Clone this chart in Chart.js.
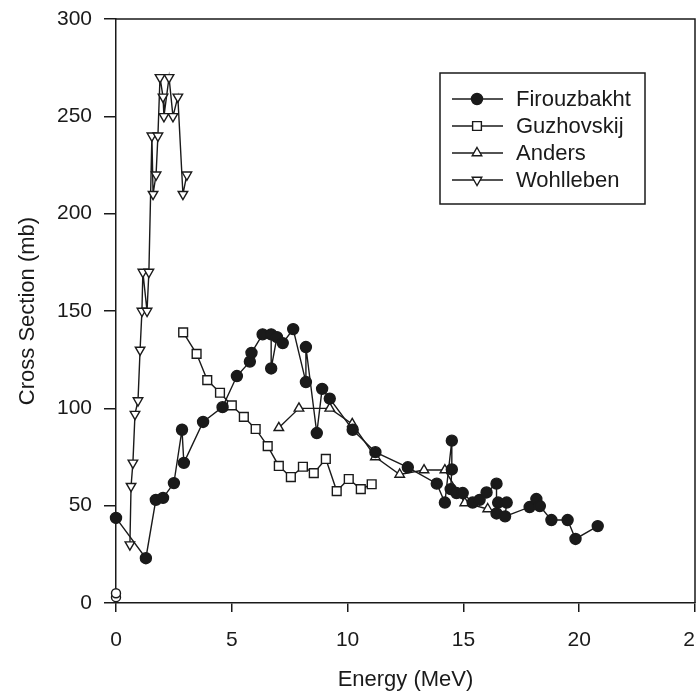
<!DOCTYPE html>
<html>
<head>
<meta charset="utf-8">
<script src="https://cdn.jsdelivr.net/npm/chart.js@4/dist/chart.umd.min.js"></script>
<style>
  html, body { margin: 0; padding: 0; background: #fff; }
  #wrap { width: 696px; height: 691px; }
</style>
</head>
<body>
<div id="wrap"><canvas id="myChart" width="696" height="691"></canvas></div>
<script>
// values
const firouzX = [0, 1.29, 1.72, 2.03, 2.5, 2.85, 2.93, 3.76, 4.6, 5.22, 5.78, 5.85, 6.33, 6.7, 6.7, 6.95, 7.2, 7.65, 8.2, 8.2, 8.67, 8.9, 9.23, 10.22, 11.2, 12.6, 13.85, 14.2, 14.5, 14.5, 14.45, 14.7, 14.97, 15.4, 15.7, 16.0, 16.43, 16.43, 16.5, 16.87, 16.8, 17.86, 18.15, 18.3, 18.8, 19.5, 19.84, 20.8];
const firouzY = [43.7, 23, 53, 54, 61.6, 89, 72, 93, 100.6, 116.6, 124, 128.5, 138, 138, 120.5, 136.6, 133.5, 140.7, 113.5, 131.5, 87.3, 110, 105, 89, 77.5, 69.7, 61.3, 51.6, 83.4, 68.6, 58.5, 56.5, 56.5, 51.6, 53, 56.8, 61.3, 46, 51.6, 51.6, 44.5, 49.3, 53.4, 49.8, 42.6, 42.6, 32.9, 39.5];

const guzX = [2.9, 3.48, 3.94, 4.49, 5.0, 5.52, 6.03, 6.55, 7.03, 7.55, 8.07, 8.54, 9.06, 9.53, 10.05, 10.57, 11.04];
const guzY = [139, 128, 114.5, 108, 101.5, 95.6, 89.4, 80.6, 70.4, 64.7, 70, 66.7, 74, 57.5, 63.7, 58.5, 61];

const andersX = [7.03, 7.9, 9.23, 10.2, 11.2, 12.25, 13.3, 14.2, 15.06, 16.05];
const andersY = [90, 100, 100, 92, 75, 66, 68.3, 68.3, 51.4, 48.3];

const wohlX = [0.6, 0.65, 0.73, 0.82, 0.95, 1.04, 1.12, 1.16, 1.34, 1.42, 1.55, 1.6, 1.73, 1.81, 1.9, 2.03, 2.07, 2.29, 2.46, 2.67, 2.89, 3.06];
const wohlY = [30, 60, 72, 97, 104, 130, 150, 170, 150, 170, 240, 210, 220, 240, 270, 260, 250, 270, 250, 260, 210, 220];

// two stray open markers sitting on the origin
const extraX = [0, 0];
const extraY = [3, 5];

const xTicks = [0, 5, 10, 15, 20, 25];
const yTicks = [0, 50, 100, 150, 200, 250, 300];

const INK = '#1a1a1a';
const FONT = 'Liberation Sans, Arial, Helvetica, sans-serif';
const PLOT_RIGHT = 695; // the plot runs to the page edge, the "25" gets cut

function pts(xs, ys) {
    return xs.map((x, i) => ({ x: x, y: ys[i] }));
}

function series(label, xs, ys, style, filled, radius, rotation) {
    return {
        label: label,
        data: pts(xs, ys),
        borderColor: INK,
        borderWidth: 1.4,
        pointStyle: style,
        pointRotation: rotation || 0,
        pointRadius: radius,
        pointBorderWidth: 1.4,
        pointBorderColor: INK,
        pointBackgroundColor: filled ? INK : '#fff',
        fill: false,
        tension: 0,
        clip: false
    };
}

const datasets = [
    series('Firouzbakht', firouzX, firouzY, 'circle', true, 5.5),
    series('Guzhovskij', guzX, guzY, 'rect', false, 6.2),
    series('Anders', andersX, andersY, 'triangle', false, 5.5),
    series('Wohlleben', wohlX, wohlY, 'triangle', false, 5.5, 180)
];
const extra = series('', extraX, extraY, 'circle', false, 4.5);
extra.showLine = false;
extra.inLegend = false;
datasets.push(extra);

// box around the plot plus the hand-made legend (line + marker)
const framePlugin = {
    id: 'frame',
    afterLayout(chart) {
        // chart.js keeps room for half of the last x label; the original doesn't
        const a = chart.chartArea;
        const x = chart.scales.x;
        a.right = PLOT_RIGHT;
        a.width = a.right - a.left;
        x.right = PLOT_RIGHT;
        x.width = x.right - x.left;
        x.configure();
    },
    afterDraw(chart) {
        const { ctx, chartArea: a } = chart;
        ctx.save();
        ctx.strokeStyle = INK;
        ctx.lineWidth = 1.5;
        ctx.beginPath();
        ctx.moveTo(a.left, a.top);
        ctx.lineTo(a.right, a.top);
        ctx.lineTo(a.right, a.bottom);
        ctx.stroke();

        // legend
        const bx = 440, by = 73, bw = 205, bh = 131;
        ctx.lineWidth = 1.5;
        ctx.strokeRect(bx, by, bw, bh);
        ctx.font = '22px ' + FONT;
        ctx.textBaseline = 'middle';
        ctx.fillStyle = INK;
        let row = 0;
        chart.data.datasets.forEach(ds => {
            if (ds.inLegend === false) return;
            const cy = 99 + row * 27;
            ctx.lineWidth = 1.4;
            ctx.strokeStyle = INK;
            ctx.beginPath();
            ctx.moveTo(452, cy);
            ctx.lineTo(503, cy);
            ctx.stroke();
            ctx.fillStyle = ds.pointBackgroundColor;
            Chart.helpers.drawPoint(ctx, {
                pointStyle: ds.pointStyle,
                rotation: ds.pointRotation,
                radius: ds.pointRadius,
                borderWidth: ds.pointBorderWidth
            }, 477, cy);
            ctx.fillStyle = INK;
            ctx.fillText(ds.label, 516, cy + 1);
            row++;
        });
        ctx.restore();
    }
};

const ctx = document.getElementById('myChart').getContext('2d');
new Chart(ctx, {
    type: 'line',
    data: { datasets: datasets },
    options: {
        responsive: false,
        animation: false,
        layout: { padding: { top: 19, right: 1, left: 0, bottom: 0 } },
        plugins: {
            legend: { display: false },
            tooltip: { enabled: false }
        },
        scales: {
            x: {
                type: 'linear',
                min: xTicks[0],
                max: xTicks[xTicks.length - 1],
                afterBuildTicks: s => { s.ticks = xTicks.map(v => ({ value: v })); },
                afterFit: s => { s.height = 88; s.paddingLeft = 0; s.paddingRight = 0; },
                grid: { display: true, drawOnChartArea: false, drawTicks: true, tickLength: 9, color: INK, lineWidth: 1.5 },
                border: { display: true, color: INK, width: 1.5 },
                ticks: { color: INK, font: { family: FONT, size: 21 }, padding: 16, maxRotation: 0 },
                title: { display: true, text: 'Energy (MeV)', color: INK, font: { family: FONT, size: 22, lineHeight: 1 }, padding: { top: 0, bottom: 0 } }
            },
            y: {
                type: 'linear',
                min: yTicks[0],
                max: yTicks[yTicks.length - 1],
                afterBuildTicks: s => { s.ticks = yTicks.map(v => ({ value: v })); },
                afterFit: s => { s.width = 116; s.paddingTop = 0; s.paddingBottom = 0; },
                grid: { display: true, drawOnChartArea: false, drawTicks: true, tickLength: 12, color: INK, lineWidth: 1.5 },
                border: { display: true, color: INK, width: 1.5 },
                ticks: { color: INK, font: { family: FONT, size: 21 }, padding: 12 },
                title: { display: true, text: 'Cross Section (mb)', color: INK, font: { family: FONT, size: 22 }, padding: { top: 15, bottom: 0 } }
            }
        }
    },
    plugins: [framePlugin]
});
</script>
</body>
</html>
